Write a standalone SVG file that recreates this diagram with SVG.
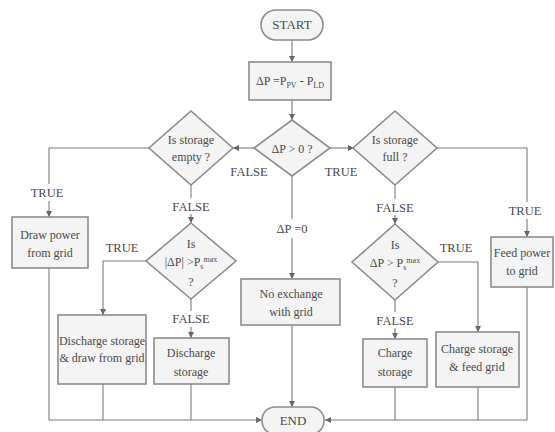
<svg xmlns="http://www.w3.org/2000/svg" width="555" height="432" viewBox="0 0 555 432" font-family="'Liberation Serif', 'Times New Roman', 'DejaVu Serif', serif">
<style>
.shape{fill:#f4f4f4;stroke:#8c8c8c;stroke-width:1.6}
.ln{fill:none;stroke:#7a7a7a;stroke-width:1.1}
text{font-family:'Liberation Serif','Times New Roman','DejaVu Serif',serif;font-size:12px;fill:#4a4a4a;text-anchor:middle}
.lbl{font-size:12.5px}
.sm{font-size:8px}
</style>
<defs>
<marker id="arr" markerWidth="6" markerHeight="6" refX="6" refY="3" orient="auto" markerUnits="userSpaceOnUse">
<path d="M0,0 L6,3 L0,6 z" fill="#666"/>
</marker>
</defs>
<rect width="555" height="432" fill="#fff"/>
<g id="connectors">
<path class="ln" d="M292,40 V62" marker-end="url(#arr)"/>
<path class="ln" d="M292,100 V120" marker-end="url(#arr)"/>
<path class="ln" d="M254,148 H233" marker-end="url(#arr)"/>
<path class="ln" d="M330,148 H354" marker-end="url(#arr)"/>
<path class="ln" d="M149,148 H49 V184"/>
<path class="ln" d="M49,201 V217" marker-end="url(#arr)"/>
<path class="ln" d="M191,185 V198"/>
<path class="ln" d="M191,214 V223" marker-end="url(#arr)"/>
<path class="ln" d="M146,261 H103 V315" marker-end="url(#arr)"/>
<path class="ln" d="M191,299 V311"/>
<path class="ln" d="M191,327 V338" marker-end="url(#arr)"/>
<path class="ln" d="M49,268 V420 H262" marker-end="url(#arr)"/>
<path class="ln" d="M103,384 V420"/>
<path class="ln" d="M191,384 V420"/>
<path class="ln" d="M292,176 V219"/>
<path class="ln" d="M292,238 V279" marker-end="url(#arr)"/>
<path class="ln" d="M292,325 V407" marker-end="url(#arr)"/>
<path class="ln" d="M395,185 V199"/>
<path class="ln" d="M395,215 V224" marker-end="url(#arr)"/>
<path class="ln" d="M438,262 H478 V332" marker-end="url(#arr)"/>
<path class="ln" d="M395,300 V312"/>
<path class="ln" d="M395,328 V339" marker-end="url(#arr)"/>
<path class="ln" d="M437,148 H527 V202"/>
<path class="ln" d="M527,219 V237" marker-end="url(#arr)"/>
<path class="ln" d="M527,287 V420 H325" marker-end="url(#arr)"/>
<path class="ln" d="M478,387 V420"/>
<path class="ln" d="M395,387 V420"/>
<text class="lbl" x="249" y="176">FALSE</text>
<text class="lbl" x="341" y="176">TRUE</text>
<text class="lbl" x="47" y="197">TRUE</text>
<text class="lbl" x="191" y="211">FALSE</text>
<text class="lbl" x="122" y="252">TRUE</text>
<text class="lbl" x="191" y="323">FALSE</text>
<text class="lbl" x="292" y="233">ΔP  =0</text>
<text class="lbl" x="395" y="212">FALSE</text>
<text class="lbl" x="456" y="252">TRUE</text>
<text class="lbl" x="395" y="325">FALSE</text>
<text class="lbl" x="525" y="215">TRUE</text>
</g>
<g id="start">
<rect class="shape" x="261" y="10" width="62" height="30" rx="15"/>
<text x="292" y="29" style="font-size:13px">START</text>
</g>
<g id="calc">
<rect class="shape" x="249" y="62" width="82" height="38"/>
<text x="290" y="85">ΔP =P<tspan class="sm" dy="3">PV</tspan><tspan dy="-3"> - P</tspan><tspan class="sm" dy="3">LD</tspan></text>
</g>
<g id="dp-check">
<polygon class="shape" points="292,120 330,148 292,176 254,148"/>
<text x="292" y="153">ΔP  &gt; 0 ?</text>
</g>
<g id="empty-check">
<polygon class="shape" points="191,111 233,148 191,185 149,148"/>
<text x="191" y="144">Is storage</text>
<text x="191" y="161">empty ?</text>
</g>
<g id="full-check">
<polygon class="shape" points="395,111 437,148 395,185 353,148"/>
<text x="395" y="144">Is storage</text>
<text x="395" y="161">full ?</text>
</g>
<g id="draw-grid">
<rect class="shape" x="12" y="217" width="76" height="51"/>
<text x="50" y="239">Draw power</text>
<text x="50" y="257">from grid</text>
</g>
<g id="discharge-limit">
<polygon class="shape" points="191,223 236,261 191,299 146,261"/>
<text x="191" y="248">Is</text>
<text x="191" y="266">|ΔP| &gt;P<tspan class="sm" dy="3">s</tspan><tspan class="sm" dy="-7">max</tspan></text>
<text x="191" y="286">?</text>
</g>
<g id="discharge-draw">
<rect class="shape" x="58" y="315" width="88" height="69"/>
<text x="102" y="345">Discharge storage</text>
<text x="102" y="362">&amp; draw from grid</text>
</g>
<g id="discharge">
<rect class="shape" x="154" y="338" width="75" height="46"/>
<text x="191" y="357">Discharge</text>
<text x="191" y="376">storage</text>
</g>
<g id="no-exchange">
<rect class="shape" x="241" y="279" width="99" height="46"/>
<text x="291" y="298">No exchange</text>
<text x="291" y="316">with grid</text>
</g>
<g id="charge-limit">
<polygon class="shape" points="395,224 438,262 395,300 352,262"/>
<text x="395" y="249">Is</text>
<text x="395" y="267">ΔP  &gt; P<tspan class="sm" dy="3">s</tspan><tspan class="sm" dy="-7">max</tspan></text>
<text x="395" y="287">?</text>
</g>
<g id="charge">
<rect class="shape" x="363" y="339" width="64" height="48"/>
<text x="395" y="357">Charge</text>
<text x="395" y="376">storage</text>
</g>
<g id="charge-feed">
<rect class="shape" x="436" y="332" width="83" height="55"/>
<text x="477" y="353">Charge storage</text>
<text x="477" y="371">&amp; feed grid</text>
</g>
<g id="feed-grid">
<rect class="shape" x="491" y="237" width="62" height="50"/>
<text x="522" y="257">Feed  power</text>
<text x="522" y="275">to grid</text>
</g>
<g id="end">
<rect class="shape" x="262" y="407" width="62" height="27" rx="13"/>
<text x="293" y="425" style="font-size:13px">END</text>
</g>
</svg>
